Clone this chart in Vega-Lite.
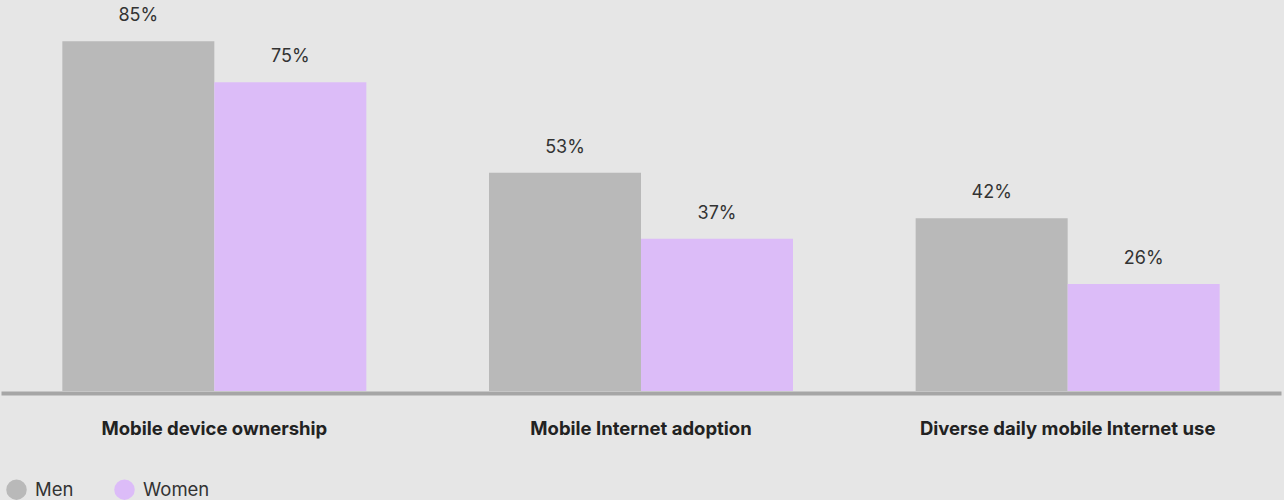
{
  "$schema": "https://vega.github.io/schema/vega-lite/v6.json",
  "width": 1280,
  "height": 391,
  "padding": {"left": 1, "top": 0, "right": 3, "bottom": 0},
  "background": "#e6e6e6",
  "config": {"view": {"stroke": null}, "font": "Inter"},
  "data": {
    "values": [
      {"category": "Mobile device ownership", "gender": "Men", "value": 0.85},
      {"category": "Mobile device ownership", "gender": "Women", "value": 0.75},
      {"category": "Mobile Internet adoption", "gender": "Men", "value": 0.53},
      {"category": "Mobile Internet adoption", "gender": "Women", "value": 0.37},
      {"category": "Diverse daily mobile Internet use", "gender": "Men", "value": 0.42},
      {"category": "Diverse daily mobile Internet use", "gender": "Women", "value": 0.26}
    ]
  },
  "encoding": {
    "x": {
      "field": "category",
      "type": "nominal",
      "sort": ["Mobile device ownership", "Mobile Internet adoption", "Diverse daily mobile Internet use"],
      "scale": {"paddingInner": 0.2875, "paddingOuter": 0.14375},
      "axis": {
        "title": null,
        "labelAngle": 0,
        "labelLimit": 0,
        "ticks": false,
        "tickSize": 0,
        "domainColor": "#a6a6a6",
        "domainWidth": 4,
        "offset": 2,
        "labelPadding": 41,
        "labelBaseline": "alphabetic",
        "labelFont": "Inter",
        "labelFontSize": 18.5,
        "labelFontWeight": 700,
        "labelColor": "#222222"
      }
    },
    "xOffset": {"field": "gender", "type": "nominal", "sort": ["Men", "Women"]},
    "y": {"field": "value", "type": "quantitative", "scale": {"domain": [0, 0.95]}, "axis": null}
  },
  "layer": [
    {
      "mark": {"type": "bar"},
      "encoding": {
        "color": {
          "field": "gender",
          "type": "nominal",
          "sort": ["Men", "Women"],
          "scale": {"domain": ["Men", "Women"], "range": ["#b9b9b9", "#dcbcf8"]},
          "legend": {
            "orient": "none",
            "legendX": 5,
            "legendY": 479,
            "direction": "horizontal",
            "title": null,
            "symbolType": "circle",
            "symbolSize": 420,
            "symbolStrokeWidth": 0,
            "symbolOpacity": 1,
            "labelFont": "Inter",
            "labelFontSize": 18.5,
            "labelColor": "#333333",
            "labelOffset": 8,
            "columnPadding": 40
          }
        }
      }
    },
    {
      "mark": {"type": "text", "baseline": "alphabetic", "dy": -20, "fontSize": 18, "color": "#333333", "font": "Inter"},
      "encoding": {"text": {"field": "value", "type": "quantitative", "format": ".0%"}}
    }
  ]
}
